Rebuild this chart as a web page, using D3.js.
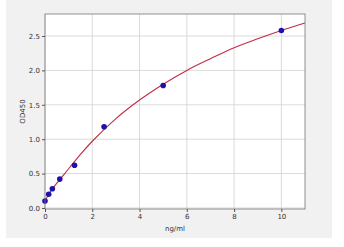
<!DOCTYPE html>
<html>
<head>
<meta charset="utf-8">
<script src="https://cdn.jsdelivr.net/npm/d3@7"></script>
<style>
  body { margin: 0; background: #fff; }
  svg { display: block; }
  .tick text { font-family: "DejaVu Sans", sans-serif; font-size: 7px; fill: #333; }
  .grid line { stroke: #d2d2d2; stroke-width: 0.8; }
  .label { font-family: "DejaVu Sans", sans-serif; font-size: 7px; fill: #333; }
</style>
</head>
<body>
<svg id="chart" width="344" height="247"></svg>
<script>
// standards (ng/ml) and measured OD450
const conc = [0, 0.156, 0.3125, 0.625, 1.25, 2.5, 5, 10];
const od = [0.1, 0.2, 0.28, 0.42, 0.62, 1.18, 1.78, 2.58];

// fitted curve
const curveX = [0, 0.25, 0.5, 1, 1.5, 2, 3, 4, 5, 6, 7, 8, 9, 10, 11];
const curveY = [0.1, 0.25, 0.36, 0.57, 0.78, 0.97, 1.3, 1.57, 1.8, 2.0, 2.17, 2.33, 2.46, 2.58, 2.69];

const xTicks = [0, 2, 4, 6, 8, 10];
const yTicks = [0, 0.5, 1, 1.5, 2, 2.5];

const svg = d3.select("#chart");
const margin = { left: 45, right: 39, top: 14, bottom: 38 };
const width = 344 - margin.left - margin.right;
const height = 247 - margin.top - margin.bottom;

// figure background
svg.append("rect").attr("x", 6).attr("y", 0).attr("width", 326).attr("height", 238).attr("fill", "#f1f1f1");

const x = d3.scaleLinear().domain([0, 11]).range([0, width]);
const y = d3.scaleLinear().domain([-0.015, 2.82]).range([height, 0]);

const g = svg.append("g").attr("transform", `translate(${margin.left},${margin.top})`);
g.append("rect").attr("width", width).attr("height", height).attr("fill", "#fff");

const gridX = g.append("g").attr("class", "grid");
gridX.selectAll("line").data(xTicks).join("line")
  .attr("x1", (d) => x(d)).attr("x2", (d) => x(d))
  .attr("y1", 0).attr("y2", height);
const gridY = g.append("g").attr("class", "grid");
gridY.selectAll("line").data(yTicks).join("line")
  .attr("x1", 0).attr("x2", width)
  .attr("y1", (d) => y(d)).attr("y2", (d) => y(d));

const line = d3.line().x((d) => x(d[0])).y((d) => y(d[1])).curve(d3.curveMonotoneX);
g.append("path")
  .datum(curveX.map((v, i) => [v, curveY[i]]))
  .attr("d", line)
  .attr("fill", "none")
  .attr("stroke", "#c42a45")
  .attr("stroke-width", 1.1);

g.selectAll("circle").data(conc.map((v, i) => [v, od[i]])).join("circle")
  .attr("cx", (d) => x(d[0])).attr("cy", (d) => y(d[1]))
  .attr("r", 2.8)
  .attr("fill", "#1e12a8");

g.append("rect").attr("width", width).attr("height", height)
  .attr("fill", "none").attr("stroke", "#777").attr("stroke-width", 0.8);

const xAxis = g.append("g").attr("transform", `translate(0,${height})`)
  .call(d3.axisBottom(x).tickValues(xTicks).tickSize(3).tickPadding(2).tickFormat(d3.format("d")));
const yAxis = g.append("g")
  .call(d3.axisLeft(y).tickValues(yTicks).tickSize(3).tickPadding(2).tickFormat(d3.format(".1f")));
[xAxis, yAxis].forEach((a) => {
  a.select(".domain").remove();
  a.selectAll(".tick line").attr("stroke", "#555");
});

svg.append("text").attr("class", "label")
  .attr("x", margin.left + x(5.5)).attr("y", 231)
  .attr("text-anchor", "middle").text("ng/ml");
svg.append("text").attr("class", "label")
  .attr("transform", `translate(25,${margin.top + height / 2}) rotate(-90)`)
  .attr("text-anchor", "middle").text("OD450");
</script>
</body>
</html>
